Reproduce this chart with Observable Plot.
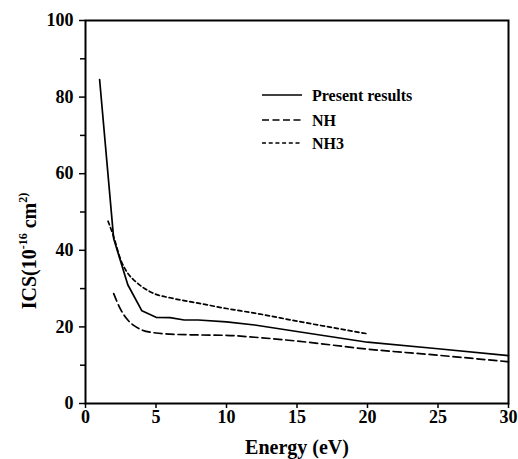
<!DOCTYPE html>
<html><head><meta charset="utf-8">
<script src="https://cdn.jsdelivr.net/npm/d3@7"></script>
<script src="https://cdn.jsdelivr.net/npm/@observablehq/plot@0.6"></script>
<style>body{margin:0;background:#fff}</style>
</head><body><div id="chart"></div>
<script>
// Present results
const presentEnergy = [1, 2, 3, 4, 5, 6, 7, 8, 10, 12, 15, 20, 25, 30];
const presentICS    = [84.6, 43, 31, 24.2, 22.5, 22.4, 21.8, 21.8, 21.3, 20.5, 18.8, 16, 14.3, 12.5];
// NH
const nhEnergy = [2, 2.5, 3, 3.5, 4, 5, 6, 8, 10, 12, 15, 20, 25, 30];
const nhICS    = [28.7, 24.5, 21.8, 20.2, 19.2, 18.4, 18.1, 17.9, 17.8, 17.3, 16.3, 14.2, 12.6, 10.9];
// NH3
const nh3Energy = [1.6, 2, 2.5, 3, 3.5, 4, 5, 6, 8, 10, 12, 15, 20];
const nh3ICS    = [47.6, 43.5, 37.5, 34, 32, 30.5, 28.5, 27.6, 26.2, 24.8, 23.6, 21.5, 18.2];

const seriesNames = ["Present results", "NH", "NH3"];
const xTicks = [0, 5, 10, 15, 20, 25, 30];
const yTicks = [0, 20, 40, 60, 80, 100];
const yMinorTicks = [10, 30, 50, 70, 90];

const dashes = {"Present results": null, "NH": "8,4", "NH3": "4,3"};
const curves = {"Present results": "linear", "NH": "monotone-x", "NH3": "monotone-x"};
const sets = [[presentEnergy, presentICS], [nhEnergy, nhICS], [nh3Energy, nh3ICS]];
const rows = seriesNames.flatMap((name, k) =>
  sets[k][0].map((e, i) => ({name, energy: e, ics: sets[k][1][i]})));

const font = "'Liberation Serif', 'Times New Roman', serif";

const chart = Plot.plot({
  width: 518, height: 459,
  marginLeft: 85, marginRight: 10, marginTop: 20, marginBottom: 56,
  style: {fontFamily: font, fontWeight: "bold", background: "#fff", color: "black", overflow: "visible"},
  x: {domain: [0, 30]},
  y: {domain: [0, 100]},
  marks: [
    ...seriesNames.map(name => Plot.line(rows.filter(d => d.name === name), {
      x: "energy", y: "ics", stroke: "black", strokeWidth: 1.7,
      strokeDasharray: dashes[name], curve: curves[name]
    })),
    Plot.axisY(yTicks, {tickSize: 6, tickPadding: 6, fontSize: 18, fontWeight: "bold", label: null, strokeWidth: 1.5}),
    Plot.axisY(yMinorTicks, {tickSize: 5, tickFormat: () => "", label: null, strokeWidth: 1.5}),
    Plot.axisX(xTicks, {tickSize: 5, tickPadding: 2, fontSize: 18, fontWeight: "bold", label: null, strokeWidth: 1.5}),
    Plot.frame({stroke: "black", strokeWidth: 2}),
    Plot.text(["Energy (eV)"], {frameAnchor: "bottom", dy: 50, lineAnchor: "bottom", fontSize: 20, fontWeight: "bold"})
  ]
});

const svg = d3.select(chart);
// y-axis title with superscripts
const yl = svg.append("text")
  .attr("transform", "translate(36,251) rotate(-90)")
  .attr("text-anchor", "middle")
  .attr("font-family", font).attr("font-weight", "bold").attr("font-size", 20).attr("fill", "black");
yl.append("tspan").text("ICS(10");
yl.append("tspan").attr("font-size", 12).attr("dy", "-9").text("-16");
yl.append("tspan").attr("dy", "9").text(" cm");
yl.append("tspan").attr("font-size", 12).attr("dy", "-9").text("2)");

// legend
const lg = svg.append("g").attr("text-anchor", "start");
seriesNames.forEach((name, i) => {
  const y = [95, 120, 143][i];
  lg.append("line").attr("x1", 262).attr("x2", 302).attr("y1", y).attr("y2", y)
    .attr("stroke", "black").attr("stroke-width", 1.7)
    .attr("stroke-dasharray", name === "NH" ? "7,3.5" : name === "NH3" ? "4,2.7" : null);
  lg.append("text").attr("x", 312).attr("y", y).attr("dy", "0.35em")
    .attr("text-anchor", "start")
    .attr("font-family", font).attr("font-weight", "bold").attr("font-size", 16).attr("fill", "black")
    .text(name);
});

document.getElementById("chart").appendChild(chart);
</script>
</body></html>
